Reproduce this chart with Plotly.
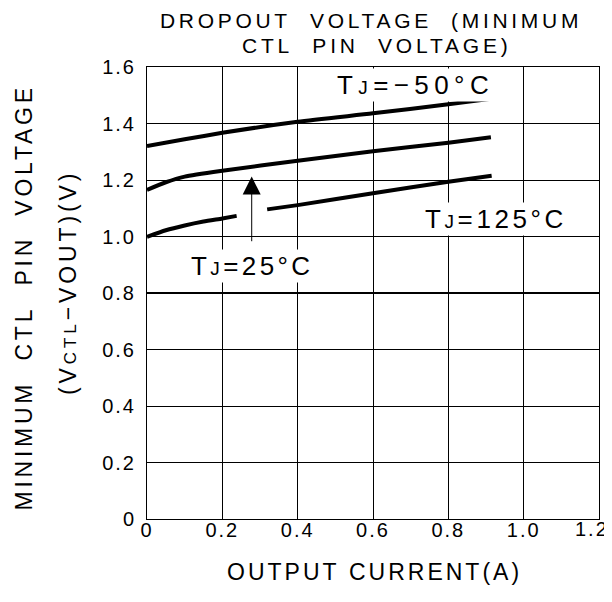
import plotly.graph_objects as go

# ---- data ----
x_m50 = [0.0, 0.1, 0.2, 0.4, 0.6, 0.8, 0.908]
y_m50 = [1.320, 1.344, 1.367, 1.406, 1.436, 1.468, 1.487]

x_25 = [0.0, 0.05, 0.1, 0.2, 0.4, 0.6, 0.8, 0.913]
y_25 = [1.165, 1.192, 1.212, 1.233, 1.268, 1.302, 1.332, 1.351]

x_125 = [0.0, 0.05, 0.1, 0.15, 0.2, 0.238, None, 0.319, 0.4, 0.6, 0.8, 0.915]
y_125 = [0.999, 1.022, 1.039, 1.053, 1.064, 1.073, None, 1.096, 1.111, 1.153, 1.194, 1.215]

x_ticks = [0, 0.2, 0.4, 0.6, 0.8, 1.0, 1.2]
x_tick_labels = ["0", "0.2", "0.4", "0.6", "0.8", "1.0", "1.2"]
y_ticks = [0, 0.2, 0.4, 0.6, 0.8, 1.0, 1.2, 1.4, 1.6]
y_tick_labels = ["0", "0.2", "0.4", "0.6", "0.8", "1.0", "1.2", "1.4", "1.6"]

arrow_x = 0.278
arrow_tail_y = 0.978
arrow_tip_y = 1.212

label_m50 = (0.499, 1.536)
label_125 = (0.733, 1.062)
label_25 = (0.111, 0.894)

# ---- layout geometry (page body has an 8px margin) ----
OFF = 8
W, H = 612 - OFF, 602 - OFF
L, R, T, B = 147 - OFF, 13, 67 - OFF, 83
PW, PH = W - L - R, H - T - B

FONT = "Liberation Sans, Arial, sans-serif"


def px(xp):
    # window pixel -> paper fraction
    return (xp - OFF - L) / PW


def py(yp):
    return (H - B - (yp - OFF)) / PH


def ls(text, sp):
    return "<span style='letter-spacing:%spx'>%s</span>" % (sp, text)


fig = go.Figure()
for xs, ys in [(x_m50, y_m50), (x_25, y_25), (x_125, y_125)]:
    fig.add_trace(go.Scatter(x=xs, y=ys, mode="lines",
                             line=dict(color="black", width=4,
                                       shape="spline", smoothing=0.6),
                             connectgaps=False, showlegend=False,
                             hoverinfo="skip"))

axis_common = dict(showgrid=True, gridcolor="black", gridwidth=1,
                   showline=True, linecolor="black", linewidth=1,
                   mirror=True, zeroline=False, ticks="", automargin=False,
                   tickfont=dict(family=FONT, size=20, color="black"),
                   fixedrange=True)

# the last x tick label sits against the right edge; it is drawn as an
# annotation aligned to that edge so it is not clipped
x_tick_text = [ls(t, 2) for t in x_tick_labels[:-1]] + [""]

fig.update_layout(
    width=W, height=H,
    margin=dict(l=L, r=R, t=T, b=B, autoexpand=False),
    paper_bgcolor="white", plot_bgcolor="white",
    showlegend=False,
    xaxis=dict(range=[0, 1.2], tickvals=x_ticks, ticktext=x_tick_text,
               ticklabelstandoff=-7, **axis_common),
    yaxis=dict(range=[0, 1.6], tickvals=y_ticks,
               ticktext=[ls(t, 2) for t in y_tick_labels],
               ticklabelstandoff=6, **axis_common),
)

# the 0.8 grid line is drawn heavier in the reference
fig.add_shape(type="line", xref="paper", x0=0, x1=1, yref="y",
              y0=y_ticks[4], y1=y_ticks[4], line=dict(color="black", width=2),
              layer="below")

NB = "\u00a0"
annos = []
annos.append(dict(x=px(611), y=py(529), xref="paper", yref="paper",
                  text=ls(x_tick_labels[-1], 2), showarrow=False,
                  font=dict(family=FONT, size=20, color="black"),
                  xanchor="right", yanchor="middle"))
# title
annos.append(dict(x=px(371), y=py(21), xref="paper", yref="paper",
                  text=ls("DROPOUT" + NB * 2 + "VOLTAGE" + NB * 2 + "(MINIMUM", 3.7),
                  showarrow=False, font=dict(family=FONT, size=21, color="black"),
                  xanchor="center", yanchor="middle"))
annos.append(dict(x=px(377), y=py(45.5), xref="paper", yref="paper",
                  text=ls("CTL" + NB * 2 + "PIN" + NB * 2 + "VOLTAGE)", 3.8),
                  showarrow=False, font=dict(family=FONT, size=21, color="black"),
                  xanchor="center", yanchor="middle"))
# x title
annos.append(dict(x=px(374), y=py(572), xref="paper", yref="paper",
                  text=ls("OUTPUT" + NB + "CURRENT(A)", 3),
                  showarrow=False, font=dict(family=FONT, size=23, color="black"),
                  xanchor="center", yanchor="middle"))
# y title
annos.append(dict(x=px(23.5), y=py(298), xref="paper", yref="paper",
                  text=ls("MINIMUM" + NB * 2 + "CTL" + NB * 2 + "PIN" + NB * 2 + "VOLTAGE", 3.75),
                  showarrow=False, textangle=-90,
                  font=dict(family=FONT, size=23, color="black"),
                  xanchor="center", yanchor="middle"))
annos.append(dict(x=px(68), y=py(283), xref="paper", yref="paper",
                  text=ls("(V<span style='font-size:17px'>CTL</span>\u2212VOUT)(V)", 3.9),
                  showarrow=False, textangle=-90,
                  font=dict(family=FONT, size=23, color="black"),
                  xanchor="center", yanchor="middle"))

tj = "T<span style='font-size:19px'>J</span>="
for (lx, ly), txt, sp in [(label_m50, tj + "\u221250°C", 5.4),
                          (label_125, tj + "125°C", 3.6),
                          (label_25, tj + "25°C", 3.4)]:
    annos.append(dict(x=lx, y=ly, xref="x", yref="y", text=ls(txt, sp),
                      showarrow=False, bgcolor="white",
                      font=dict(family=FONT, size=26, color="black"),
                      xanchor="left", yanchor="middle"))

# arrow pointing to the 25 C curve
annos.append(dict(x=arrow_x, y=arrow_tip_y, ax=arrow_x, ay=arrow_tail_y,
                  xref="x", yref="y", axref="x", ayref="y", text="",
                  showarrow=True, arrowhead=2, arrowsize=3.6, arrowwidth=1,
                  arrowcolor="black", standoff=0))

fig.update_layout(annotations=annos)
fig.write_html("out.html")
